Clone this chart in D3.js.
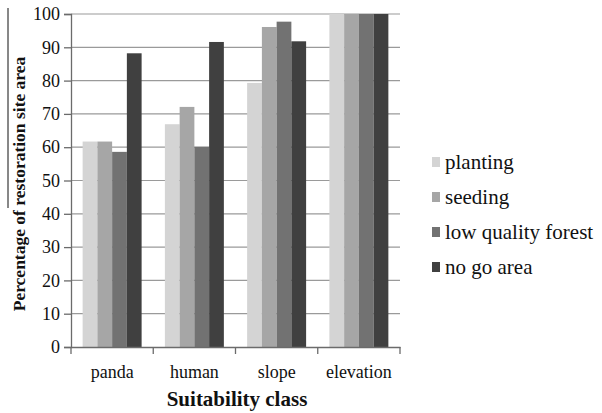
<!DOCTYPE html>
<html>
<head>
<meta charset="utf-8">
<script src="https://cdn.jsdelivr.net/npm/d3@7"></script>
<style>
	body { margin: 0; background: #fff; }
</style>
</head>
<body>
<div id="chart"></div>
<script>
// categories and series
const categories = ["panda", "human", "slope", "elevation"];
const seriesNames = ["planting", "seeding", "low quality forest", "no go area"];
const planting = [61.7, 66.9, 79.3, 100];
const seeding = [61.7, 72.1, 96.1, 100];
const lowQualityForest = [58.6, 60.1, 97.7, 100];
const noGoArea = [88.2, 91.6, 91.8, 100];
const yTicks = [0, 10, 20, 30, 40, 50, 60, 70, 80, 90, 100];

const seriesValues = [planting, seeding, lowQualityForest, noGoArea];
const colors = ["#d4d4d4", "#a6a6a6", "#727272", "#404040"];
const serif = '"Liberation Serif"';

const width = 602, height = 413;
const margin = { left: 71, right: 202, top: 14, bottom: 66 };

const svg = d3.select("#chart").append("svg")
	.attr("width", width)
	.attr("height", height);

//scales
const x0 = d3.scaleBand()
	.domain(categories)
	.range([margin.left, width - margin.right])
	.paddingInner(0.283)
	.paddingOuter(0.1415);

const x1 = d3.scaleBand()
	.domain(seriesNames)
	.range([0, x0.bandwidth()]);

const y = d3.scaleLinear()
	.domain([0, 100])
	.range([height - margin.bottom, margin.top]);

//gridlines
svg.append("g")
	.selectAll("line")
	.data(yTicks.filter(d => d > 0))
	.enter()
	.append("line")
		.attr("x1", margin.left)
		.attr("x2", width - margin.right)
		.attr("y1", d => y(d))
		.attr("y2", d => y(d))
		.attr("stroke", "#9a9a9a")
		.attr("stroke-width", 1.2);

//bars
const rows = categories.map((c, i) => ({
	cat: c,
	vals: seriesNames.map((s, j) => ({ name: s, value: seriesValues[j][i], color: colors[j] }))
}));

svg.append("g")
	.selectAll("g")
	.data(rows)
	.enter()
	.append("g")
		.attr("transform", d => `translate(${x0(d.cat)},0)`)
	.selectAll("rect")
	.data(d => d.vals)
	.enter()
	.append("rect")
		.attr("x", d => x1(d.name))
		.attr("width", x1.bandwidth())
		.attr("y", d => y(d.value))
		.attr("height", d => y(0) - y(d.value))
		.attr("fill", d => d.color);

//y axis
const yAxis = svg.append("g")
	.attr("transform", `translate(${margin.left},0)`)
	.call(d3.axisLeft(y).tickValues(yTicks).tickSize(7).tickPadding(4));
yAxis.attr("font-family", null);
yAxis.select(".domain").attr("stroke", "#6b6b6b").attr("stroke-width", 1.3);
yAxis.selectAll(".tick line").attr("stroke", "#6b6b6b").attr("stroke-width", 1.3);
yAxis.selectAll("text")
	.style("font-family", serif)
	.style("font-size", "18px")
	.attr("fill", "#111");

//x axis
const xAxis = svg.append("g")
	.attr("transform", `translate(0,${y(0)})`)
	.call(d3.axisBottom(x0).tickSize(0).tickPadding(18));
xAxis.attr("font-family", null);
xAxis.select(".domain").attr("stroke", "#6b6b6b").attr("stroke-width", 1.3);
xAxis.selectAll("text")
	.style("font-family", serif)
	.style("font-size", "18px")
	.attr("fill", "#111");

//x tick marks sit between categories
const xEdges = categories.map(c => x0(c) - x0.step() * x0.paddingInner() / 2)
	.concat([width - margin.right]);
svg.append("g")
	.selectAll("line")
	.data(xEdges)
	.enter()
	.append("line")
		.attr("x1", d => d)
		.attr("x2", d => d)
		.attr("y1", y(0))
		.attr("y2", y(0) + 7)
		.attr("stroke", "#6b6b6b")
		.attr("stroke-width", 1.3);

//axis titles
svg.append("text")
	.attr("x", 237)
	.attr("y", 406)
	.attr("text-anchor", "middle")
	.style("font-family", serif)
	.style("font-size", "21px")
	.style("font-weight", "bold")
	.attr("fill", "#111")
	.text("Suitability class");

svg.append("text")
	.attr("transform", "translate(25,184) rotate(-90)")
	.attr("text-anchor", "middle")
	.style("font-family", serif)
	.style("font-size", "17.5px")
	.style("font-weight", "bold")
	.attr("fill", "#111")
	.text("Percentage of restoration site area");

//little bracket line at the left edge
svg.append("line")
	.attr("x1", 8).attr("x2", 8)
	.attr("y1", 8).attr("y2", 208)
	.attr("stroke", "#111")
	.attr("stroke-width", 1);

//legend
const legend = svg.append("g")
	.selectAll("g")
	.data(seriesNames)
	.enter()
	.append("g")
		.attr("transform", (d, i) => `translate(432,${162 + i * 35})`);

legend.append("rect")
	.attr("x", 0)
	.attr("y", -5)
	.attr("width", 8)
	.attr("height", 10)
	.attr("fill", (d, i) => colors[i]);

legend.append("text")
	.attr("x", 13)
	.attr("y", 0)
	.attr("dy", "0.35em")
	.style("font-family", serif)
	.style("font-size", "21px")
	.attr("fill", "#111")
	.text(d => d);
</script>
</body>
</html>
